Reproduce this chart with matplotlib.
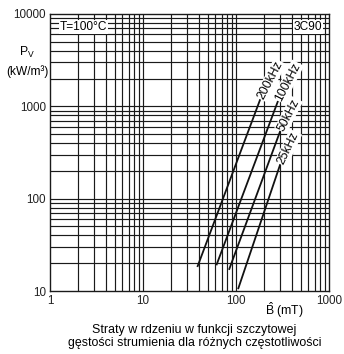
import numpy as np
import matplotlib.pyplot as plt

plt.rcParams["font.family"] = ["Liberation Sans", "DejaVu Sans"]
plt.rcParams["mathtext.fontset"] = "custom"
plt.rcParams["mathtext.rm"] = "Liberation Sans"
plt.rcParams["mathtext.it"] = "Liberation Sans:italic"

# straight loss lines, endpoints (B in mT, Pv in kW/m^3)
freq_labels = ["200kHz", "100kHz", "50kHz", "25kHz"]
b_start = [38.7, 62.0, 84.7, 106.0]
b_end = [181.0, 281.0, 297.0, 297.0]
p_start = [18.6, 19.4, 17.3, 10.7]
p_end = [1170.0, 1122.0, 531.0, 231.0]

x_ticks = [1, 10, 100, 1000]
y_ticks = [10, 100, 1000, 10000]

W, H = 344, 354
fig = plt.figure(figsize=(W / 100, H / 100), dpi=100)
ax = fig.add_axes([50 / W, 1 - 291 / H, 279 / W, 277 / H])
ax.set_xscale("log")
ax.set_yscale("log")
ax.set_xlim(1, 1000)
ax.set_ylim(10, 10000)

# grid: every 1..9 in each decade
grid_kw = dict(color="#1a1a1a", lw=0.85, zorder=1)
for dec in [1, 10, 100]:
    for m in range(2, 10):
        ax.axvline(dec * m, **grid_kw)
for dec in [10, 100, 1000]:
    for m in range(2, 10):
        ax.axhline(dec * m, **grid_kw)
for v in [10, 100]:
    ax.axvline(v, **grid_kw)
for v in [100, 1000]:
    ax.axhline(v, **grid_kw)

for s in ax.spines.values():
    s.set_linewidth(1.0)
    s.set_color("#1a1a1a")

ax.set_xticks(x_ticks)
ax.set_xticklabels([str(v) for v in x_ticks])
ax.set_yticks(y_ticks)
ax.set_yticklabels([str(v) for v in y_ticks])
ax.xaxis.set_minor_locator(plt.NullLocator())
ax.yaxis.set_minor_locator(plt.NullLocator())
ax.tick_params(length=0, labelsize=8.4, colors="#222222", pad=3)

fig.canvas.draw()
box = dict(facecolor="white", edgecolor="none", pad=0.6)
for lab, b0, b1, p0, p1 in zip(freq_labels, b_start, b_end, p_start, p_end):
    ax.plot([b0, b1], [p0, p1], color="#111111", lw=1.3, zorder=3)
    x0, y0 = ax.transData.transform((b0, p0))
    x1, y1 = ax.transData.transform((b1, p1))
    ang = np.degrees(np.arctan2(y1 - y0, x1 - x0)) - 7
    ax.text(b1 * 1.02, p1 * 1.04, lab, rotation=ang, rotation_mode="anchor",
            ha="left", va="center", fontsize=8.7, bbox=box, zorder=4)

ax.text(0.035, 0.952, "T=100°C", transform=ax.transAxes, ha="left",
        va="center", fontsize=8.6, bbox=box, zorder=4)
ax.text(0.975, 0.952, "3C90", transform=ax.transAxes, ha="right",
        va="center", fontsize=8.6, bbox=box, zorder=4)

fig.text(27 / W, 1 - 52 / H, r"P$_\mathrm{V}$", ha="center", va="center",
         fontsize=8.8)
fig.text(27 / W, 1 - 72 / H, "(kW/m³)", ha="center", va="center",
         fontsize=8.6)
fig.text(284 / W, 1 - 310 / H, r"$\hat{\mathrm{B}}$ (mT)", ha="center",
         va="center", fontsize=8.8)
fig.text(194 / W, 1 - 330 / H, "Straty w rdzeniu w funkcji szczytowej",
         ha="center", va="center", fontsize=8.9)
fig.text(195 / W, 1 - 343 / H, "gęstości strumienia dla różnych częstotliwości",
         ha="center", va="center", fontsize=8.9)

fig.savefig("out.png", dpi=100, facecolor="white")
